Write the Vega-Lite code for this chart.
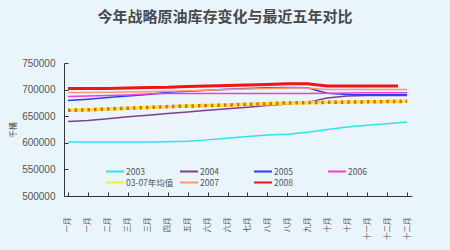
{
  "$schema": "https://vega.github.io/schema/vega-lite/v6.json",
  "autosize": "none",
  "width": 348,
  "height": 133,
  "padding": {"left": 64, "top": 63, "right": 38, "bottom": 54},
  "background": "#E9F4FB",
  "config": {"view": {"stroke": null}},
  "title": {
    "text": "今年战略原油库存变化与最近五年对比",
    "font": "Noto Sans CJK SC",
    "fontSize": 15,
    "fontWeight": "bold",
    "color": "#4a4a4a",
    "anchor": "middle",
    "dx": -13,
    "offset": 33
  },
  "data": {
    "values": [
      {"x": 1, "s": "2003", "v": 601500}, {"x": 2, "s": "2003", "v": 601500}, {"x": 3, "s": "2003", "v": 601500}, {"x": 4, "s": "2003", "v": 601500}, {"x": 5, "s": "2003", "v": 601500}, {"x": 6, "s": "2003", "v": 602000}, {"x": 7, "s": "2003", "v": 603000}, {"x": 8, "s": "2003", "v": 605500}, {"x": 9, "s": "2003", "v": 608500}, {"x": 10, "s": "2003", "v": 612000}, {"x": 11, "s": "2003", "v": 614500}, {"x": 12, "s": "2003", "v": 616000}, {"x": 13, "s": "2003", "v": 620000}, {"x": 14, "s": "2003", "v": 625000}, {"x": 15, "s": "2003", "v": 629500}, {"x": 16, "s": "2003", "v": 633000}, {"x": 17, "s": "2003", "v": 636000}, {"x": 18, "s": "2003", "v": 639000},
      {"x": 1, "s": "2004", "v": 640000}, {"x": 2, "s": "2004", "v": 642000}, {"x": 3, "s": "2004", "v": 645000}, {"x": 4, "s": "2004", "v": 649000}, {"x": 5, "s": "2004", "v": 652000}, {"x": 6, "s": "2004", "v": 655000}, {"x": 7, "s": "2004", "v": 658000}, {"x": 8, "s": "2004", "v": 661000}, {"x": 9, "s": "2004", "v": 664000}, {"x": 10, "s": "2004", "v": 667000}, {"x": 11, "s": "2004", "v": 670000}, {"x": 12, "s": "2004", "v": 673000}, {"x": 13, "s": "2004", "v": 676000}, {"x": 14, "s": "2004", "v": 684000}, {"x": 15, "s": "2004", "v": 688000}, {"x": 16, "s": "2004", "v": 689000}, {"x": 17, "s": "2004", "v": 689000}, {"x": 18, "s": "2004", "v": 689000},
      {"x": 1, "s": "2005", "v": 679300}, {"x": 2, "s": "2005", "v": 682000}, {"x": 3, "s": "2005", "v": 685000}, {"x": 4, "s": "2005", "v": 688000}, {"x": 5, "s": "2005", "v": 691000}, {"x": 6, "s": "2005", "v": 695000}, {"x": 7, "s": "2005", "v": 697000}, {"x": 8, "s": "2005", "v": 699000}, {"x": 9, "s": "2005", "v": 700500}, {"x": 10, "s": "2005", "v": 702000}, {"x": 11, "s": "2005", "v": 703500}, {"x": 12, "s": "2005", "v": 704000}, {"x": 13, "s": "2005", "v": 703500}, {"x": 14, "s": "2005", "v": 693000}, {"x": 15, "s": "2005", "v": 690600}, {"x": 16, "s": "2005", "v": 690500}, {"x": 17, "s": "2005", "v": 690500}, {"x": 18, "s": "2005", "v": 690500},
      {"x": 1, "s": "2006", "v": 687000}, {"x": 2, "s": "2006", "v": 688000}, {"x": 3, "s": "2006", "v": 689000}, {"x": 4, "s": "2006", "v": 690000}, {"x": 5, "s": "2006", "v": 691500}, {"x": 6, "s": "2006", "v": 692500}, {"x": 7, "s": "2006", "v": 692500}, {"x": 8, "s": "2006", "v": 692500}, {"x": 9, "s": "2006", "v": 692500}, {"x": 10, "s": "2006", "v": 692500}, {"x": 11, "s": "2006", "v": 692500}, {"x": 12, "s": "2006", "v": 692500}, {"x": 13, "s": "2006", "v": 692500}, {"x": 14, "s": "2006", "v": 693000}, {"x": 15, "s": "2006", "v": 693500}, {"x": 16, "s": "2006", "v": 694000}, {"x": 17, "s": "2006", "v": 694000}, {"x": 18, "s": "2006", "v": 694000},
      {"x": 1, "s": "2007", "v": 694500}, {"x": 2, "s": "2007", "v": 694500}, {"x": 3, "s": "2007", "v": 695000}, {"x": 4, "s": "2007", "v": 695500}, {"x": 5, "s": "2007", "v": 696000}, {"x": 6, "s": "2007", "v": 697000}, {"x": 7, "s": "2007", "v": 698000}, {"x": 8, "s": "2007", "v": 699000}, {"x": 9, "s": "2007", "v": 700000}, {"x": 10, "s": "2007", "v": 701000}, {"x": 11, "s": "2007", "v": 702000}, {"x": 12, "s": "2007", "v": 703000}, {"x": 13, "s": "2007", "v": 703000}, {"x": 14, "s": "2007", "v": 700000}, {"x": 15, "s": "2007", "v": 700000}, {"x": 16, "s": "2007", "v": 700000}, {"x": 17, "s": "2007", "v": 700000}, {"x": 18, "s": "2007", "v": 700000},
      {"x": 1, "s": "03-07年均值", "v": 661000}, {"x": 2, "s": "03-07年均值", "v": 662000}, {"x": 3, "s": "03-07年均值", "v": 663500}, {"x": 4, "s": "03-07年均值", "v": 665000}, {"x": 5, "s": "03-07年均值", "v": 666500}, {"x": 6, "s": "03-07年均值", "v": 668000}, {"x": 7, "s": "03-07年均值", "v": 669000}, {"x": 8, "s": "03-07年均值", "v": 670000}, {"x": 9, "s": "03-07年均值", "v": 671000}, {"x": 10, "s": "03-07年均值", "v": 672500}, {"x": 11, "s": "03-07年均值", "v": 673500}, {"x": 12, "s": "03-07年均值", "v": 675000}, {"x": 13, "s": "03-07年均值", "v": 675500}, {"x": 14, "s": "03-07年均值", "v": 676000}, {"x": 15, "s": "03-07年均值", "v": 676500}, {"x": 16, "s": "03-07年均值", "v": 677000}, {"x": 17, "s": "03-07年均值", "v": 677500}, {"x": 18, "s": "03-07年均值", "v": 678000},
      {"x": 1, "s": "2008", "v": 702000}, {"x": 2, "s": "2008", "v": 702000}, {"x": 3, "s": "2008", "v": 702300}, {"x": 4, "s": "2008", "v": 703000}, {"x": 5, "s": "2008", "v": 703800}, {"x": 6, "s": "2008", "v": 704300}, {"x": 7, "s": "2008", "v": 705700}, {"x": 8, "s": "2008", "v": 706600}, {"x": 9, "s": "2008", "v": 707600}, {"x": 10, "s": "2008", "v": 708500}, {"x": 11, "s": "2008", "v": 709500}, {"x": 12, "s": "2008", "v": 710800}, {"x": 13, "s": "2008", "v": 710800}, {"x": 14, "s": "2008", "v": 706600}, {"x": 15, "s": "2008", "v": 706600}, {"x": 16, "s": "2008", "v": 706600}, {"x": 17, "s": "2008", "v": 706600}, {"x": 17.55, "s": "2008", "v": 706600}
    ]
  },
  "encoding": {
    "x": {
      "field": "x",
      "type": "quantitative",
      "scale": {"domain": [0.8, 18.25], "nice": false, "zero": false},
      "axis": {
        "title": null,
        "grid": false,
        "values": [1, 2, 3, 4, 5, 6, 7, 8, 9, 10, 11, 12, 13, 14, 15, 16, 17, 18],
        "labelExpr": "['一月','一月','二月','三月','三月','四月','五月','六月','六月','七月','八月','八月','九月','十月','十月','十一月','十二月','十二月'][datum.value-1]",
        "labelAngle": 270,
        "labelFont": "Noto Sans CJK SC",
        "labelFontSize": 7.5,
        "labelColor": "#555555",
        "labelPadding": 25,
        "labelOverlap": false,
        "labelFlush": false,
        "domainColor": "#333333",
        "tickColor": "#333333",
        "tickSize": -4
      }
    },
    "y": {
      "field": "v",
      "type": "quantitative",
      "scale": {"domain": [500000, 750000], "nice": false, "zero": false},
      "axis": {
        "title": "千桶",
        "titleFont": "Noto Sans CJK SC",
        "titleFontSize": 8,
        "titleFontWeight": "normal",
        "titleColor": "#444444",
        "titlePadding": 4,
        "grid": false,
        "values": [500000, 550000, 600000, 650000, 700000, 750000],
        "format": "d",
        "labelFont": "Liberation Sans",
        "labelFontSize": 10,
        "labelColor": "#555555",
        "labelPadding": 13,
        "domainColor": "#333333",
        "tickColor": "#333333",
        "tickSize": -4
      }
    }
  },
  "layer": [
    {
      "mark": {"type": "line", "clip": false},
      "encoding": {
        "color": {
          "field": "s",
          "type": "nominal",
          "sort": ["2003", "2004", "2005", "2006", "03-07年均值", "2007", "2008"],
          "scale": {
            "domain": ["2003", "2004", "2005", "2006", "03-07年均值", "2007", "2008"],
            "range": ["#2EE3EE", "#7E3E96", "#2F3BEE", "#F03CD8", "#FFE82E", "#FF9A6E", "#F01414"]
          },
          "legend": {
            "title": null,
            "orient": "none",
            "legendX": 41,
            "legendY": 103,
            "direction": "horizontal",
            "columns": 4,
            "gridAlign": "all",
            "columnPadding": 5,
            "rowPadding": 0,
            "padding": 0,
            "clipHeight": 11,
            "symbolType": "stroke",
            "symbolSize": 324,
            "symbolStrokeWidth": 2,
            "labelFont": "Noto Sans CJK SC",
            "labelFontSize": 8.5,
            "labelColor": "#555555",
            "labelOffset": 1
          }
        },
        "order": {"field": "x", "type": "quantitative"},
        "strokeWidth": {
          "condition": [
            {"test": "datum.s === '2008'", "value": 3},
            {"test": "datum.s === '03-07年均值'", "value": 3.5}
          ],
          "value": 1.5
        }
      }
    },
    {
      "transform": [{"filter": "datum.s === '03-07年均值'"}],
      "mark": {"type": "line", "clip": false, "color": "#E0662A", "strokeWidth": 3.5, "strokeDash": [2.5, 4]},
      "encoding": {
        "order": {"field": "x", "type": "quantitative"}
      }
    }
  ]
}
